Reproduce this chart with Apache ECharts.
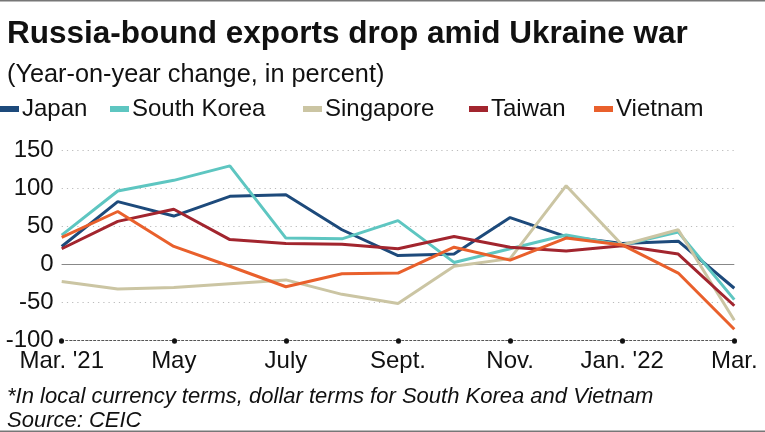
<!DOCTYPE html>
<html><head><meta charset="utf-8">
<script src="https://cdn.jsdelivr.net/npm/echarts@6/dist/echarts.min.js"></script>
<style>html,body{margin:0;padding:0;background:#fff}#c{width:765px;height:432px}</style>
</head><body><div id="c"></div>
<script>
const categories = ["Mar. '21","Apr.","May","June","July","Aug.","Sept.","Oct.","Nov.","Dec.","Jan. '22","Feb.","Mar."];
const japan     = [24, 83, 64, 90, 92, 46, 12, 14, 62, 37, 28, 31, -31];
const southKorea= [39, 97, 111, 130, 35, 34, 58, 3, 21, 39, 26, 43, -46];
const singapore = [-22, -32, -30, -25, -20, -39, -51, -2, 8, 104, 26, 46, -73];
const taiwan    = [21, 57, 73, 33, 28, 27, 21, 37, 23, 18, 25, 14, -54];
const vietnam   = [36, 70, 24, -2, -29, -12, -11, 23, 6, 35, 26, -11, -85];
const yTicks = [-100, -50, 0, 50, 100, 150];

const names = ['Japan','South Korea','Singapore','Taiwan','Vietnam'];
const colors = ['#1d4a7b','#5ec6c1','#cbc5a3','#a2252e','#e9602c'];
const values = [japan, southKorea, singapore, taiwan, vietnam];
const legendLeft = [0, 110, 303, 469, 594];
const FONT = '"Liberation Sans", Arial, sans-serif';

const chart = echarts.init(document.getElementById('c'), null, {renderer:'canvas'});
chart.setOption({
  animation: false,
  backgroundColor: '#fff',
  textStyle: {fontFamily: FONT},
  title: [
    {text: 'Russia-bound exports drop amid Ukraine war', left: 2, top: 13,
     textStyle: {fontSize: 31.5, fontWeight: 'bold', color: '#111', fontFamily: FONT}},
    {text: '(Year-on-year change, in percent)', left: 2, top: 58,
     textStyle: {fontSize: 25.3, fontWeight: 'normal', color: '#111', fontFamily: FONT}},
    {text: '*In local currency terms, dollar terms for South Korea and Vietnam', left: 2, top: 381,
     textStyle: {fontSize: 22, fontWeight: 'normal', fontStyle: 'italic', color: '#111', fontFamily: FONT}},
    {text: 'Source: CEIC', left: 2, top: 405,
     textStyle: {fontSize: 22, fontWeight: 'normal', fontStyle: 'italic', color: '#111', fontFamily: FONT}}
  ],
  legend: names.map((n, i) => ({
    data: [n], left: legendLeft[i], top: 97, padding: 0,
    icon: 'rect', itemWidth: 19, itemHeight: 6, itemGap: 0,
    textStyle: {fontSize: 24, color: '#111', padding: [0,0,0,-2], fontFamily: FONT},
    selectedMode: false
  })),
  graphic: [
    {type: 'rect', shape: {x: 0, y: 0, width: 765, height: 1.5}, style: {fill: '#777'}},
    {type: 'rect', shape: {x: 0, y: 430.5, width: 765, height: 1.5}, style: {fill: '#777'}}
  ],
  grid: {left: 61.7, right: 30.7, top: 150.7, bottom: 91.3, containLabel: false},
  xAxis: {
    type: 'category', data: categories, boundaryGap: false,
    axisLine: {show: true, onZero: false, lineStyle: {color: '#555', width: 1, type: [2, 2]}},
    axisTick: {show: true, interval: 1, length: 0.5, lineStyle: {color: '#111', width: 5, cap: 'round'}},
    axisLabel: {interval: 1, fontSize: 24, color: '#111', margin: 9, fontFamily: FONT},
    splitLine: {show: false}
  },
  yAxis: {
    type: 'value', min: yTicks[0], max: yTicks[yTicks.length-1], interval: 50,
    axisLine: {show: false}, axisTick: {show: false},
    axisLabel: {fontSize: 24, color: '#111', margin: 8, fontFamily: FONT},
    splitLine: {show: true, lineStyle: {color: '#bbb', width: 1.2, type: [1.2, 4]}}
  },
  series: values.map((v, i) => ({
    name: names[i], type: 'line', data: v, color: colors[i],
    symbol: 'none', lineStyle: {width: 3, color: colors[i]},
    markLine: i === 0 ? {silent: true, symbol: 'none', label: {show: false},
      lineStyle: {color: '#888', width: 1.2, type: 'solid'}, data: [{yAxis: 0}], z: 1} : undefined
  }))
});
</script></body></html>
